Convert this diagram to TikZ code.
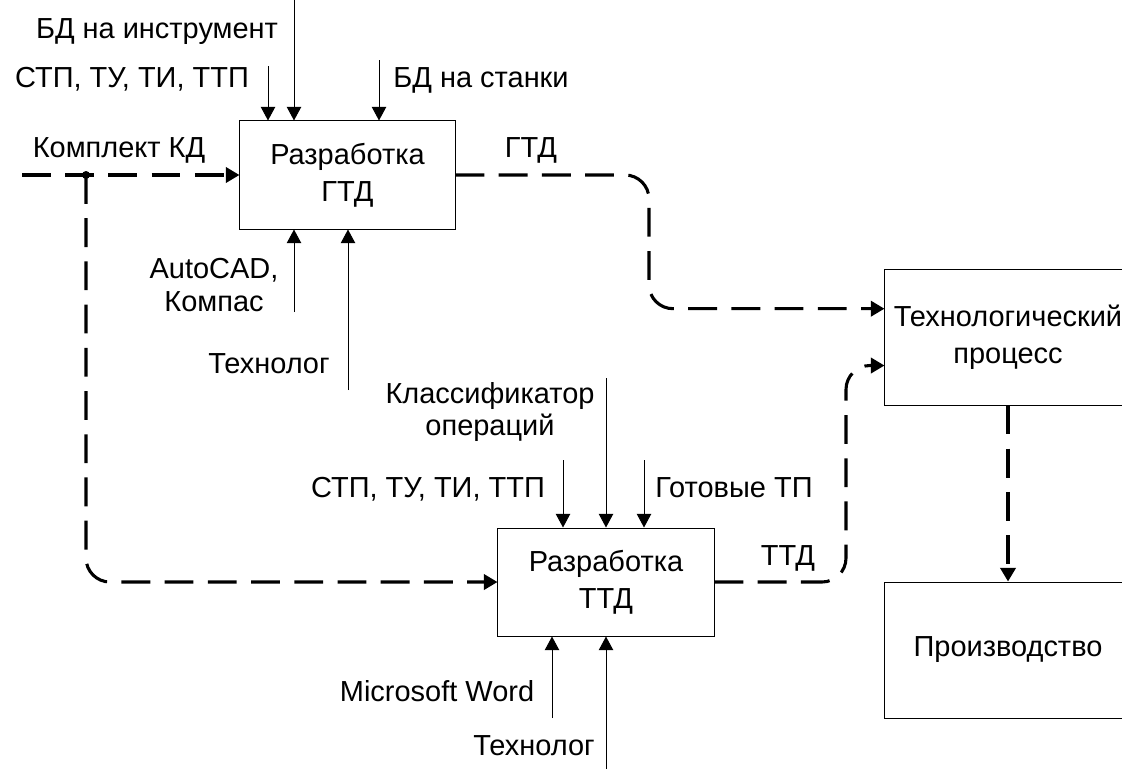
\documentclass[tikz,border=0pt]{standalone}
\usepackage{fontspec}
\setmainfont{Liberation Sans}
\usetikzlibrary{arrows.meta}
\tikzstyle{pixelGrid} = [x = 0.025cm, y = -0.025cm]
\tikzstyle{processBox} = [draw, line width = 0.7pt, align = center, inner sep = 0pt, minimum height = 2.7cm, font = \fontsize{20.6}{26}\selectfont]
\tikzstyle{flowLine} = [line width = 2.2pt, dash pattern = on 0.72cm off 0.36cm, rounded corners = 0.6cm, -{Triangle[length = 0.34cm, width = 0.38cm]}]
\tikzstyle{sideLine} = [line width = 0.7pt, -{Triangle[length = 0.34cm, width = 0.36cm]}]
\tikzstyle{labelText} = [anchor = base, inner sep = 0pt]
\tikzstyle{twoLineText} = [align = center, inner sep = 0pt]
\newcommand{\sideArrow}[3]{\coordinate (#1) at (#2); \draw [sideLine] (#1) -- (#1 |- #3);}

\begin{document}
\begin{tikzpicture}[pixelGrid, font = \fontsize{20.6}{23}\selectfont]
  \useasboundingbox (0,0) rectangle (1122,769);
  \clip (0,0) rectangle (1122,769);

  \node [processBox, minimum width = 5.375cm] (gtdBox) at (347.5,175) {Разработка\\ГТД};
  \node [processBox, minimum width = 5.4cm] (ttdBox) at (606,582) {Разработка\\ТТД};
  \node [processBox, minimum width = 6.15cm, minimum height = 3.375cm] (techBox) at (1008,337.5) {Технологический\\процесс};
  \node [processBox, minimum width = 6.15cm, minimum height = 3.4cm] (prodBox) at (1008,650) {Производство};

  \sideArrow{instrIn}{294,0}{gtdBox.north}
  \sideArrow{stpInA}{268,66}{gtdBox.north}
  \sideArrow{stankiIn}{379,60}{gtdBox.north}
  \sideArrow{cadIn}{294,312}{gtdBox.south}
  \sideArrow{techInA}{348,390}{gtdBox.south}
  \sideArrow{classIn}{606,378}{ttdBox.north}
  \sideArrow{stpInB}{563,460}{ttdBox.north}
  \sideArrow{gotovIn}{644,460}{ttdBox.north}
  \sideArrow{wordIn}{552,718}{ttdBox.south}
  \sideArrow{techInB}{606,769}{ttdBox.south}

  \node [labelText] (instrLabel) at (157,38) {БД на инструмент};
  \node [labelText] (stpLabelA) at (132,87) {СТП, ТУ, ТИ, ТТП};
  \node [labelText] (stankiLabel) at (481,87) {БД на станки};
  \node [labelText] (kdLabel) at (119,157) {Комплект КД};
  \node [labelText] (gtdLabel) at (531,157) {ГТД};
  \node [twoLineText] (cadLabel) at (214,285) {AutoCAD,\\Компас};
  \node [labelText] (techLabelA) at (269,373) {Технолог};
  \node [twoLineText] (classLabel) at (490,412) {Классификатор\\операций};
  \node [labelText] (stpLabelB) at (428,497) {СТП, ТУ, ТИ, ТТП};
  \node [labelText] (gotovLabel) at (734,497) {Готовые ТП};
  \node [labelText] (ttdLabel) at (788,565) {ТТД};
  \node [labelText] (wordLabel) at (437,701) {Microsoft Word};
  \node [labelText] (techLabelB) at (534,755) {Технолог};

  \coordinate (kdStart) at (22,175);
  \coordinate (kdSplit) at (86,175);
  \coordinate (gtdBend) at (649,240);
  \coordinate (ttdBend) at (846,470);
  \draw [flowLine] (kdStart) -- (gtdBox.west);
  \draw [flowLine] (kdSplit) |- (ttdBox.west);
  \fill (kdSplit) circle (0.1cm);
  \draw [flowLine] (gtdBox.east) -| (gtdBend) |- ([yshift = 0.72cm]techBox.west);
  \draw [flowLine] (ttdBox.east) -| (ttdBend) |- ([yshift = -0.7cm]techBox.west);
  \draw [flowLine] (techBox.south) -- (prodBox.north);
\end{tikzpicture}
\end{document}
